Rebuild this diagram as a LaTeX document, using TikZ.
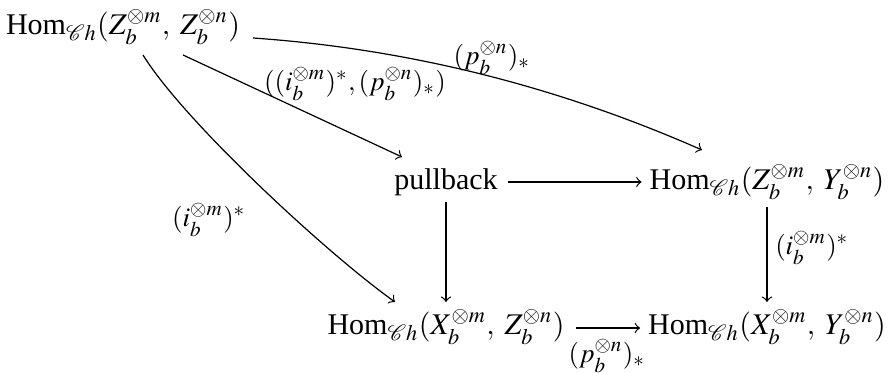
\documentclass[tikz,border=0pt]{standalone}
\usepackage{amsmath}
\usepackage{mathptmx}
\usepackage[no-math]{fontspec}
\setmainfont{Liberation Serif}
\newcommand{\HomCh}{\text{Hom}_{\mathcal{C}h}}
\begin{document}
\begin{tikzpicture}[x=0.333pt,y=-0.333pt,
  obj/.style={anchor=base,inner sep=0pt,outer sep=0pt},
  lbl/.style={inner sep=0pt,font=\fontsize{9}{11}\selectfont},
  ar/.style={->,line width=0.4pt}]
\useasboundingbox (0,0) rectangle (891,373);
\node[obj] (A) at (123,35) {$\HomCh(Z_b^{\otimes m},\;Z_b^{\otimes n})$};
\node[obj] (P) at (446,190) {pullback};
\node[obj] (B) at (767,190) {$\HomCh(Z_b^{\otimes m},\;Y_b^{\otimes n})$};
\node[obj] (C) at (446,335) {$\HomCh(X_b^{\otimes m},\;Z_b^{\otimes n})$};
\node[obj] (D) at (767,335) {$\HomCh(X_b^{\otimes m},\;Y_b^{\otimes n})$};
% arrows
\draw[ar] ([shift={(130,3)}]A.base) .. controls +(150,10.5) and +(-150,-66) .. ([shift={(-65,-40)}]B.base);
\draw[ar] ([shift={(60,20)}]A.base) -- ([shift={(-44,-33)}]P.base);
\draw[ar] ([shift={(20,20)}]A.base) .. controls +(40,65) and +(-70,-50) .. ([shift={(-51,-33)}]C.base);
\draw[ar] ([shift={(10,-8)}]P.base east) -- ([shift={(-8,-8)}]B.base west);
\draw[ar] ([shift={(0,12)}]P.base) -- ([shift={(0,-33)}]C.base);
\draw[ar] ([shift={(0,17)}]B.base) -- ([shift={(0,-33)}]D.base);
\draw[ar] ([shift={(12,-7)}]C.base east) -- ([shift={(-8,-7)}]D.base west);
% labels
\node[lbl] (lAB) at (492,58) {$(p_b^{\otimes n})_*$};
\node[lbl] (lAP) at (355,84) {$((i_b^{\otimes m})^*,(p_b^{\otimes n})_*)$};
\node[lbl] (lAC) at (209,220) {$(i_b^{\otimes m})^*$};
\node[lbl] (lBD) at (812,248) {$(i_b^{\otimes m})^*$};
\node[lbl] (lCD) at (607,356) {$(p_b^{\otimes n})_*$};
\end{tikzpicture}
\end{document}
